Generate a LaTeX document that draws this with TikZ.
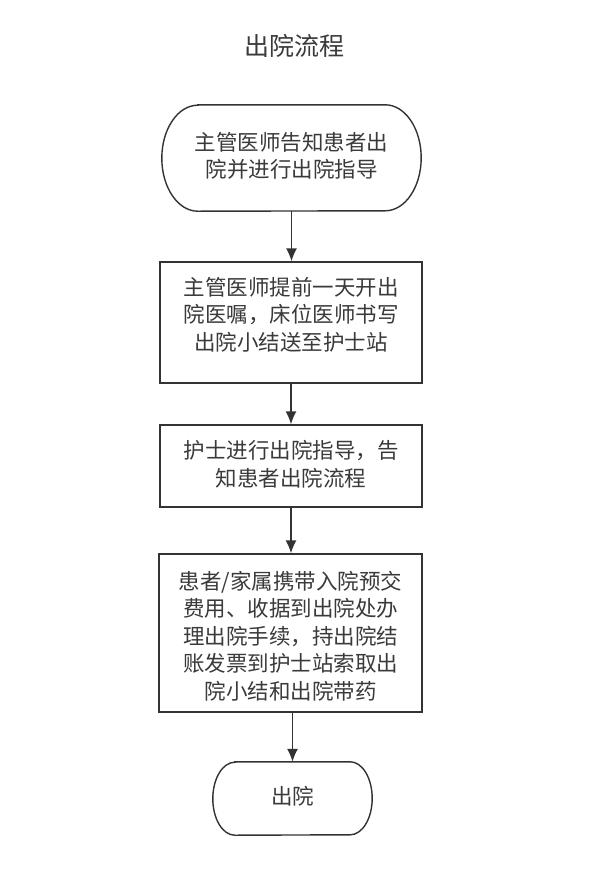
\documentclass[tikz,border=0pt]{standalone}
\usepackage{fontspec}
\setmainfont{Noto Sans CJK SC}
\usetikzlibrary{arrows.meta,calc}
\definecolor{ink}{HTML}{333333}
\definecolor{txtc}{HTML}{3A3A3A}
\begin{document}
\begin{tikzpicture}[x=1pt,y=-1pt,
  boxline/.style={draw=ink,line width=1.4pt},
  procbox/.style={boxline,rectangle,inner sep=0pt},
  termbox/.style={rectangle,inner sep=0pt},
  txt/.style={text=txtc,align=center,inner sep=0pt,font=\fontsize{21.5}{27.5}\selectfont},
  flow/.style={draw=ink,line width=1.4pt,-{Latex[length=13pt,width=11pt]}}
]
\useasboundingbox[fill=white] (0,0) rectangle (593,895);

\node[text=txtc,font=\fontsize{25}{28}\selectfont] (title) at (294,46) {出院流程};

% box 1 (terminal)
\node[termbox,minimum width=259pt,minimum height=106pt] (b1) at (291.5,158) {};
\draw[boxline] ($(b1.north west)+(36,0)$) -- ($(b1.north east)+(-36,0)$)
  arc[start angle=90,end angle=-90,x radius=36pt,y radius=53pt]
  -- ($(b1.south west)+(36,0)$)
  arc[start angle=270,end angle=90,x radius=36pt,y radius=53pt] -- cycle;
\node[txt] (t1) at (291.5,156) {主管医师告知患者出\\院并进行出院指导};

% box 2
\node[procbox,minimum width=262pt,minimum height=121pt] (b2) at (291,322.5) {};
\node[txt] (t2) at (291,314.5) {主管医师提前一天开出\\院医嘱，床位医师书写\\出院小结送至护士站};

% box 3
\node[procbox,minimum width=262pt,minimum height=82pt] (b3) at (291,466) {};
\node[txt] (t3) at (291,464) {护士进行出院指导，告\\知患者出院流程};

% box 4
\node[procbox,minimum width=263pt,minimum height=158pt] (b4) at (290.5,633) {};
\node[txt] (t4) at (290.5,636) {患者/家属携带入院预交\\费用、收据到出院处办\\理出院手续，持出院结\\账发票到护士站索取出\\院小结和出院带药};

% box 5 (terminal)
\node[termbox,minimum width=159pt,minimum height=73pt] (b5) at (292.5,798.5) {};
\draw[boxline] ($(b5.north west)+(22,0)$) -- ($(b5.north east)+(-22,0)$)
  arc[start angle=90,end angle=-90,x radius=22pt,y radius=36.5pt]
  -- ($(b5.south west)+(22,0)$)
  arc[start angle=270,end angle=90,x radius=22pt,y radius=36.5pt] -- cycle;
\node[txt] (t5) at (292.5,796) {出院};

% connectors
\draw[flow] (b1.south) -- (b2.north -| b1.south);
\draw[flow] (b2.south) -- (b3.north);
\draw[flow] (b3.south) -- (b4.north -| b3.south);
\draw[flow] (b4.south -| b5.north) -- (b5.north);
\end{tikzpicture}
\end{document}
